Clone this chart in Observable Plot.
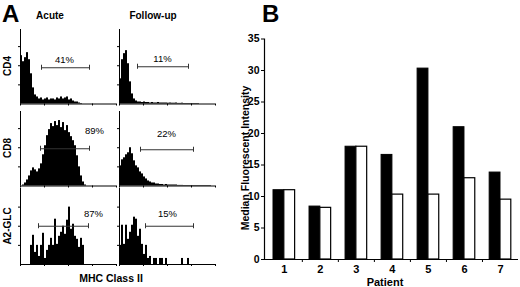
<!DOCTYPE html>
<html>
<head>
<meta charset="utf-8">
<script src="https://cdn.jsdelivr.net/npm/d3@7"></script>
<script src="https://cdn.jsdelivr.net/npm/@observablehq/plot@0.6"></script>
<style>
  html, body { margin: 0; padding: 0; background: #fff; }
  #fig { position: relative; width: 520px; height: 287px; overflow: hidden; background: #fff;
         font-family: "Liberation Sans", Arial, sans-serif; color: #000; }
  .lbl { position: absolute; font-weight: bold; white-space: nowrap; line-height: 1; }
  .rot { transform: translate(-50%, -50%) rotate(-90deg); }
  .ctr { transform: translate(-50%, -50%); }
</style>
</head>
<body>
<div id="fig"></div>
<script>
// ---------- Panel A data: flow histogram counts per channel bin (48 bins = 4 decades) ----------
const binTicks = [0, 12, 24, 36, 48];
const cd4Acute  = [48,42,46,51,44,30,16,9,7,5,6,4,5,6,4,5,5,4,6,5,7,5,6,7,4,5,3,2,2,1,0.5];
const cd4Follow = [25,44,50,53,40,22,10,5,3,2,2,1.5,2,1.5,1.5,1,1.5,1,1,1.5,1,1,1,1,0.8,1,0.8,0.8,1,0.6,0.6,0.8,0.5,0.5,0.5,0.5,0.5,0.5,0.5,0.5];
const cd8Acute  = [0,1,3,6,10,15,18,16,14,17,22,31,40,50,56,62,59,64,60,65,58,63,55,60,53,49,45,40,30,19,10,4,1];
const cd8Follow = [20,26,28,31,33,38,32,25,20,18,14,12,9,7,5,4,3,3,2,2,1.5,1.5,1,1.5,1,1,1,1,1,0.6,0.6,0.6,0.5,0.5,0.5,0.5,0.5,0.5,0.5,0.5,0.5,0.5,0.5,0.5,0.5,0.5];
const glcAcute  = [0,0,0,0,0,19,29,12,19,8,19,31,6,14,19,26,19,45,20,28,32,38,30,44,57,35,40,28,25,17,26,19,0];
const glcFollow = [19,39,20,39,25,32,39,47,45,28,35,20,10,19,6,8,0,6,6,0,6,6,0,6,0,0,0,0,0,0,0,6,0,0,6];

const columns = ["Acute", "Follow-up"];
const rows = ["CD4", "CD8", "A2-GLC"];
const gateLabels = ["41%", "11%", "89%", "22%", "87%", "15%"];
// gate start/end bins, gate level, label position (bin, count)
const gateX1 = [10.5, 9, 10, 10.5, 9, 13];
const gateX2 = [34.5, 34.5, 34.5, 37, 34, 37];
const gateY  = [36, 37, 37, 36, 38, 38];
const labelX = [22, 21.5, 37, 23.5, 36.5, 24];
const labelY = [44, 45, 55, 52, 50, 50];

// ---------- Panel B data ----------
const patients = [1, 2, 3, 4, 5, 6, 7];
const acuteMFI  = [11.0, 8.4, 17.9, 16.6, 30.3, 21.0, 13.8];
const followMFI = [11.0, 8.2, 17.9, 10.3, 10.3, 12.9, 9.5];
const mfiTicks = [0, 5, 10, 15, 20, 25, 30, 35];

const fig = document.getElementById("fig");
const FONT = '"Liberation Sans", Arial, sans-serif';

function place(el, left, top) {
  el.style.position = "absolute";
  el.style.left = left + "px";
  el.style.top = top + "px";
  fig.appendChild(el);
}
function label(text, x, y, size, cls) {
  const d = document.createElement("div");
  d.className = "lbl " + (cls || "");
  d.textContent = text;
  d.style.left = x + "px";
  d.style.top = y + "px";
  d.style.fontSize = size + "px";
  fig.appendChild(d);
}

// ---------- Panel A: six histograms ----------
const hists = [cd4Acute, cd4Follow, cd8Acute, cd8Follow, glcAcute, glcFollow];
const colLeft = [19.5, 118.5];          // y-axis position of each column
const rowTop = [29, 111, 188];          // top of each panel
const rowBase = [103.5, 185.5, 264];    // baseline of each panel
const PW = 96;                          // panel width

hists.forEach((counts, k) => {
  const r = Math.floor(k / 2), c = k % 2;
  const h = rowBase[r] - rowTop[r];
  const ml = 3, mr = 3, mt = 3, mb = 4;
  const bins = counts.map((v, i) => ({i, v}));
  const plot = Plot.plot({
    width: PW + ml + mr,
    height: h + mt + mb,
    marginLeft: ml, marginRight: mr, marginTop: mt, marginBottom: mb,
    x: {domain: [0, 48], label: null},
    y: {domain: [0, 74 * h / 74.5], label: null},
    style: {background: "transparent", overflow: "visible"},
    marks: [
      Plot.rect(bins, {x1: "i", x2: d => d.i + 1, y1: 0, y2: "v", fill: "#000", inset: 0}),
      Plot.ruleY([0], {stroke: "#000", strokeWidth: 1}),
      Plot.ruleX([0], {stroke: "#000", strokeWidth: 1}),
      Plot.axisX({ticks: binTicks, tickSize: 2, tickFormat: () => "", stroke: "#000"}),
      Plot.axisY({ticks: [19, 38, 57], tickSize: 2, tickFormat: () => "", stroke: "#000"}),
      Plot.ruleY([gateY[k]], {x1: gateX1[k], x2: gateX2[k], stroke: "#333", strokeWidth: 1}),
      Plot.ruleX([gateX1[k], gateX2[k]], {y1: gateY[k] - 2.5, y2: gateY[k] + 2.5, stroke: "#333", strokeWidth: 1}),
      Plot.text([gateLabels[k]], {x: labelX[k], y: labelY[k], text: d => d, fontSize: 9.5, fill: "#000", fontFamily: FONT})
    ]
  });
  place(plot, colLeft[c] - ml, rowTop[r] - mt);
});

label("A", 2, 2, 24, "");
label(columns[0], 50, 16, 10, "ctr");
label(columns[1], 153, 16, 10, "ctr");
rows.forEach((t, r) => label(t, 8, (rowTop[r] + rowBase[r]) / 2, 10, "rot"));
label("MHC Class II", 111, 278, 10.5, "ctr");

// ---------- Panel B: bar chart ----------
const acuteRows = patients.map((p, i) => ({p, v: acuteMFI[i]}));
const followRows = patients.map((p, i) => ({p, v: followMFI[i]}));
const W = 0.3;
const barPlot = Plot.plot({
  width: 306, height: 257,
  marginLeft: 50, marginRight: 2, marginTop: 8.5, marginBottom: 28,
  x: {domain: [0.45, 7.5], label: null},
  y: {domain: [0, 35], label: null},
  style: {background: "transparent", fontFamily: FONT, fontSize: "10.5px", fontWeight: "bold", color: "#000", overflow: "visible"},
  marks: [
    Plot.rect(acuteRows, {x1: d => d.p - W, x2: "p", y1: 0, y2: "v", fill: "#000", stroke: "#000", strokeWidth: 1}),
    Plot.rect(followRows, {x1: "p", x2: d => d.p + W, y1: 0, y2: "v", fill: "#fff", stroke: "#000", strokeWidth: 1.2}),
    Plot.axisY({ticks: mfiTicks, tickSize: 3, tickPadding: 2, stroke: "#000", fontWeight: "bold", fontSize: 10.5}),
    Plot.axisX({ticks: patients, tickSize: 0, tickPadding: 6, tickFormat: d3.format("d"), fontWeight: "bold", fontSize: 11}),
    Plot.axisX({ticks: [1.5, 2.5, 3.5, 4.5, 5.5, 6.5], tickSize: 3, tickFormat: () => "", stroke: "#000"}),
    Plot.ruleY([0], {stroke: "#000", strokeWidth: 1.2}),
    Plot.ruleX([0.45], {y1: 0, y2: 35, stroke: "#000", strokeWidth: 1.2})
  ]
});
place(barPlot, 214, 30);

label("B", 262, 2, 24, "");
label("Median Fluorescent Intensity", 245, 158, 10.5, "rot");
label("Patient", 385, 281.5, 11, "ctr");
</script>
</body>
</html>
